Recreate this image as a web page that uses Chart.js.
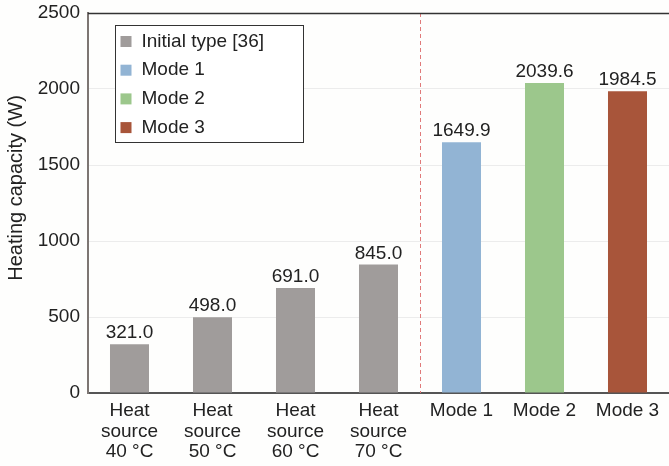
<!DOCTYPE html>
<html>
<head>
<meta charset="utf-8">
<script src="https://cdn.jsdelivr.net/npm/chart.js@4"></script>
<style>
  html, body { margin: 0; padding: 0; background: #fefefd; }
  #wrap { width: 669px; height: 466px; position: relative; }
</style>
</head>
<body>
<div id="wrap"><canvas id="chart"></canvas></div>
<script>
// categories on the x axis
const categories = [
    ["Heat", "source", "40 °C"],
    ["Heat", "source", "50 °C"],
    ["Heat", "source", "60 °C"],
    ["Heat", "source", "70 °C"],
    "Mode 1",
    "Mode 2",
    "Mode 3"
];

// series names (legend) and values
const seriesNames = ["Initial type [36]", "Mode 1", "Mode 2", "Mode 3"];
const initialValues = [321.0, 498.0, 691.0, 845.0, null, null, null];
const mode1Values = [null, null, null, null, 1649.9, null, null];
const mode2Values = [null, null, null, null, null, 2039.6, null];
const mode3Values = [null, null, null, null, null, null, 1984.5];
const seriesColors = ["#a09c9b", "#92b4d4", "#9cc78c", "#a8553a"];

// y axis
const yMin = 0;
const yMax = 2500;
const yStep = 500;
const yTitle = "Heating capacity (W)";

const FONT = "'Liberation Sans', Arial, sans-serif";
const TEXT = "#222222";

// value labels above bars, dashed separator, top border, y title and boxed legend
const decorPlugin = {
    id: "decor",
    afterDatasetsDraw(chart) {
        const ctx = chart.ctx;
        const area = chart.chartArea;
        const x = chart.scales.x;

        ctx.save();
        ctx.font = "19px " + FONT;
        ctx.fillStyle = TEXT;
        ctx.textAlign = "center";
        ctx.textBaseline = "alphabetic";
        chart.data.datasets.forEach((ds, i) => {
            const meta = chart.getDatasetMeta(i);
            meta.data.forEach((bar, j) => {
                const v = ds.data[j];
                if (v === null || v === undefined) return;
                ctx.fillText(v.toFixed(1), bar.x, bar.y - 6);
            });
        });

        // dashed separator between the two groups
        const sepX = Math.round((x.getPixelForValue(3) + x.getPixelForValue(4)) / 2) + 0.5;
        ctx.strokeStyle = "#e07a7a";
        ctx.lineWidth = 1;
        ctx.setLineDash([4, 3]);
        ctx.beginPath();
        ctx.moveTo(sepX, area.top);
        ctx.lineTo(sepX, area.bottom);
        ctx.stroke();
        ctx.setLineDash([]);

        // top border
        ctx.strokeStyle = "#333333";
        ctx.lineWidth = 1.5;
        ctx.beginPath();
        ctx.moveTo(area.left, area.top + 0.5);
        ctx.lineTo(chart.width, area.top + 0.5);
        ctx.stroke();

        // y axis title (sits a bit above the axis middle in the original)
        ctx.save();
        ctx.translate(16, 188);
        ctx.rotate(-Math.PI / 2);
        ctx.font = "20px " + FONT;
        ctx.fillStyle = TEXT;
        ctx.textAlign = "center";
        ctx.textBaseline = "middle";
        ctx.fillText(yTitle, 0, 0);
        ctx.restore();

        // legend box
        const bx = area.left + 27.5, by = area.top + 12.5;
        const bw = 188, bh = 117;
        ctx.fillStyle = "#ffffff";
        ctx.fillRect(bx, by, bw, bh);
        ctx.strokeStyle = "#333333";
        ctx.lineWidth = 1;
        ctx.strokeRect(bx, by, bw, bh);
        ctx.textAlign = "left";
        ctx.textBaseline = "middle";
        ctx.font = "19px " + FONT;
        chart.data.datasets.forEach((ds, i) => {
            const cy = by + 16 + i * 28.7;
            ctx.fillStyle = ds.backgroundColor;
            ctx.fillRect(bx + 5, cy - 5.5, 11, 11);
            ctx.fillStyle = TEXT;
            ctx.fillText(ds.label, bx + 26, cy);
        });
        ctx.restore();
    }
};

const allSeries = [initialValues, mode1Values, mode2Values, mode3Values];

new Chart(document.getElementById("chart"), {
    type: "bar",
    data: {
        labels: categories,
        datasets: allSeries.map((vals, i) => ({
            label: seriesNames[i],
            data: vals,
            backgroundColor: seriesColors[i],
            borderWidth: 0,
            grouped: false,
            categoryPercentage: 1,
            barPercentage: 0.47
        }))
    },
    options: {
        responsive: true,
        maintainAspectRatio: false,
        animation: false,
        layout: { padding: { top: 13, right: 0, left: 0, bottom: 0 } },
        plugins: {
            legend: { display: false },
            tooltip: { enabled: false }
        },
        scales: {
            x: {
                offset: true,
                grid: { display: false, drawTicks: false },
                border: { display: true, color: "#555555", width: 2 },
                ticks: {
                    color: TEXT,
                    font: { family: FONT, size: 19, lineHeight: 1.1 },
                    padding: 7,
                    maxRotation: 0,
                    autoSkip: false
                },
                afterFit(scale) {
                    scale.height = 73;
                    scale.paddingLeft = 0;
                    scale.paddingRight = 0;
                }
            },
            y: {
                min: yMin,
                max: yMax,
                grid: { color: "#ececec", lineWidth: 1, drawTicks: false },
                border: { display: true, color: "#7d7673", width: 2 },
                ticks: {
                    stepSize: yStep,
                    color: TEXT,
                    font: { family: FONT, size: 19 },
                    padding: 8,
                    callback: (v) => String(v)
                },
                afterFit(scale) {
                    scale.width = 88;
                    scale.paddingTop = 0;
                    scale.paddingBottom = 0;
                }
            }
        }
    },
    plugins: [decorPlugin]
});
</script>
</body>
</html>
